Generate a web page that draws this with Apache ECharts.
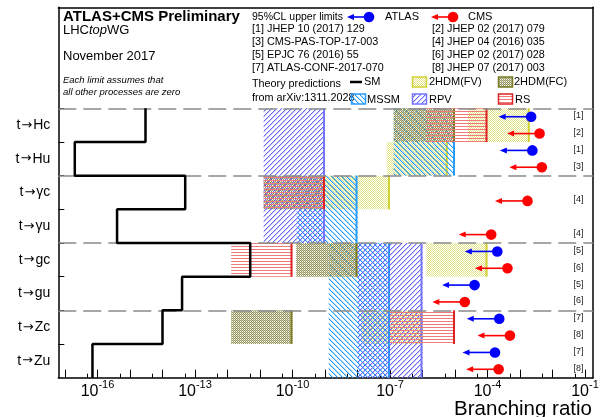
<!DOCTYPE html>
<html>
<head>
<meta charset="utf-8">
<script src="https://cdn.jsdelivr.net/npm/echarts@6/dist/echarts.min.js"></script>
<style>
  html, body { margin: 0; padding: 0; background: #fff; }
  #chart { width: 601px; height: 417px; }
</style>
</head>
<body>
<div id="chart"></div>
<script>
// Top-quark FCNC decay channels, top to bottom
const decays = ['t→Hc', 't→Hu', 't→γc', 't→γu', 't→gc', 't→gu', 't→Zc', 't→Zu'];
// Standard Model branching ratios
const smBR = [3e-15, 2e-17, 5e-14, 4e-16, 5e-12, 4e-14, 1e-14, 7e-17];
// 95% CL upper limits
const atlasLimit = [2.2e-3, 2.4e-3, null, null, 2.0e-4, 4.0e-5, 2.3e-4, 1.7e-4];
const cmsLimit   = [4.0e-3, 4.7e-3, 1.7e-3, 1.3e-4, 4.1e-4, 2.0e-5, 4.9e-4, 2.2e-4];
const atlasRef = ['[1]', '[1]', null, null, '[5]', '[5]', '[7]', '[7]'];
const cmsRef   = ['[2]', '[3]', '[4]', '[4]', '[6]', '[6]', '[8]', '[8]'];
// Theory prediction ranges: [low, high, first row, last row]
const fvRanges   = [[2.5e-5, 2e-3, 0, 0], [8e-8, 6e-6, 1, 1], [1e-9, 1e-7, 2, 2], [1.3e-6, 1e-4, 4, 4], [1.3e-8, 1e-6, 6, 6]];
const fcRanges   = [[1.3e-7, 1e-5, 0, 0], [1.3e-11, 1e-9, 2, 2], [1.3e-10, 1e-8, 4, 4], [1.3e-12, 1e-10, 6, 6]];
const mssmRanges = [[1.3e-7, 1e-5, 0, 1], [1.35e-10, 1e-8, 2, 3], [1.3e-9, 1e-7, 4, 5], [1.3e-9, 1e-7, 6, 7]];
const rpvRanges  = [[1.3e-11, 1e-9, 0, 1], [1.3e-11, 1e-9, 2, 3], [1e-8, 1e-6, 4, 5], [1e-8, 1e-6, 6, 7]];
const rsRanges   = [[1.3e-6, 1e-4, 0, 0], [1.3e-11, 1e-9, 2, 2], [1.3e-12, 1e-10, 4, 4], [1e-7, 1e-5, 6, 6]];
// Axis decorations (exponents of ten)
const xLabelExps = [-16, -13, -10, -7, -4, -1];
const xDecadeExps = [-17, -16, -15, -14, -13, -12, -11, -10, -9, -8, -7, -6, -5, -4, -3, -2, -1];
const groupEdges = [2, 4, 6, 8];

const FONT = 'Liberation Sans, Arial, Helvetica, sans-serif';
const X_MIN = -17.206, X_MAX = -0.754;
const NROWS = decays.length;
const log10 = Math.log10;

// Fill patterns built pixel by pixel so the lines stay crisp
function pattern(w, h, draw) {
  const c = document.createElement('canvas');
  c.width = w; c.height = h;
  draw(c.getContext('2d'), w, h);
  return { image: c, repeat: 'repeat' };
}
function hatch(color, soft, s, down) {
  return pattern(s, s, (ctx) => {
    for (let i = 0; i < s; i++) {
      const y = down ? i : s - 1 - i;
      ctx.fillStyle = color; ctx.fillRect(i, y, 1, 1);
      ctx.fillStyle = soft; ctx.fillRect((i + 1) % s, y, 1, 1);
    }
  });
}
const fvFill = pattern(2, 2, (ctx) => { ctx.fillStyle = '#e2e288'; ctx.fillRect(0, 0, 1, 1); ctx.fillRect(1, 1, 1, 1); });
const fcFill = pattern(2, 2, (ctx) => {
  ctx.fillStyle = '#959560'; ctx.fillRect(0, 0, 1, 1); ctx.fillRect(1, 1, 1, 1);
  ctx.fillStyle = '#cacaa8'; ctx.fillRect(1, 0, 1, 1);
});
const mssmFill = hatch('#1f9bff', 'rgba(31,155,255,0.35)', 5, true);
const rpvFill = hatch('#6464ff', 'rgba(100,100,255,0.35)', 5, false);
const rsFill = pattern(4, 3, (ctx) => { ctx.fillStyle = '#ef7a7a'; ctx.fillRect(0, 0, 4, 1); });

const STYLE = {
  fv:   { fill: fvFill,   edge: '#d2d232' },
  fc:   { fill: fcFill,   edge: '#7a7a22' },
  mssm: { fill: mssmFill, edge: '#2a9cff' },
  rpv:  { fill: rpvFill,  edge: '#7474ff' },
  rs:   { fill: rsFill,   edge: '#e02222' }
};

// Row i spans y in [NROWS-1-i, NROWS-i]
function boxSeries(name, ranges, st, extra) {
  return Object.assign({
    type: 'custom', name, silent: true, z: 2,
    xAxisIndex: 0, yAxisIndex: 0,
    data: ranges.map(r => [log10(r[0]), log10(r[1]), NROWS - 1 - r[3], NROWS - r[2]]),
    encode: { x: [0, 1], y: [2, 3] },
    renderItem(params, api) {
      const a = api.coord([api.value(0), api.value(3)]);
      const b = api.coord([api.value(1), api.value(2)]);
      return {
        type: 'group', children: [
          { type: 'rect', shape: { x: a[0], y: a[1], width: b[0] - a[0], height: b[1] - a[1] }, style: { fill: st.fill } },
          { type: 'line', shape: { x1: b[0] - 1, y1: a[1], x2: b[0] - 1, y2: b[1] }, style: { stroke: st.edge, lineWidth: 2 } }
        ]
      };
    }
  }, extra || {});
}

// Upper-limit markers: dot at the limit with an arrow one decade long
function limitSeries(name, limits, refs, color, offset) {
  const entries = [];
  limits.forEach((v, i) => { if (v != null) entries.push({ x: log10(v), y: NROWS - 1 - i + offset, ref: refs[i] }); });
  return {
    type: 'custom', name, silent: true, z: 5,
    xAxisIndex: 0, yAxisIndex: 0,
    data: entries.map(e => [e.x, e.y]),
    encode: { x: 0, y: 1 },
    renderItem(params, api) {
      const e = entries[params.dataIndex];
      const p = api.coord([api.value(0), api.value(1)]);
      const q = api.coord([api.value(0) - 1, api.value(1)]);
      const r = api.coord([-1.2, api.value(1)]);
      return {
        type: 'group', children: [
          { type: 'line', shape: { x1: q[0] + 4, y1: p[1], x2: p[0], y2: p[1] }, style: { stroke: color, lineWidth: 1.6 } },
          { type: 'polygon', shape: { points: [[q[0], p[1]], [q[0] + 7, p[1] - 3], [q[0] + 7, p[1] + 3]] }, style: { fill: color } },
          { type: 'circle', shape: { cx: p[0], cy: p[1], r: 5.3 }, style: { fill: color } },
          { type: 'text', style: { text: e.ref, x: r[0], y: p[1] - 1, align: 'center', verticalAlign: 'middle', fontSize: 9, fontFamily: FONT, fill: '#222' } }
        ]
      };
    }
  };
}

// SM step line
const smPoints = [];
smBR.forEach((v, i) => { smPoints.push([log10(v), NROWS - i]); smPoints.push([log10(v), NROWS - 1 - i]); });

// Legend samples and text inside the frame
const T = (x, y, text, size, extra) => ({
  type: 'text', x, y, silent: true,
  style: Object.assign({ text, fontSize: size, fontFamily: FONT, fill: '#000', verticalAlign: 'middle' }, extra || {})
});
const legendBox = (x, y, st) => ({
  type: 'rect', silent: true, shape: { x, y, width: 14, height: 10 },
  style: { fill: st.fill, stroke: st.edge, lineWidth: 1.5 }
});
const legendMarker = (x, y, color) => ({
  type: 'group', silent: true, children: [
    { type: 'line', shape: { x1: x - 18, y1: y, x2: x, y2: y }, style: { stroke: color, lineWidth: 1.6 } },
    { type: 'polygon', shape: { points: [[x - 22, y], [x - 15, y - 3], [x - 15, y + 3]] }, style: { fill: color } },
    { type: 'circle', shape: { cx: x, cy: y, r: 5.3 }, style: { fill: color } }
  ]
});

const graphic = [
  T(63, 17, 'ATLAS+CMS Preliminary', 15, { fontWeight: 'bold' }),
  T(63, 30, '{n|LHC}{i|top}{n|WG}', 13, { rich: { n: { fontSize: 13, fontFamily: FONT }, i: { fontSize: 13, fontFamily: FONT, fontStyle: 'italic' } } }),
  T(63, 56, 'November 2017', 13),
  T(63, 80, 'Each limit assumes that', 9.5, { fontStyle: 'italic' }),
  T(63, 92, 'all other processes are zero', 9.5, { fontStyle: 'italic' }),
  T(252, 17, '95%CL upper limits', 10.5),
  legendMarker(369, 17, '#0000ff'),
  T(385, 17, 'ATLAS', 11),
  legendMarker(453, 17, '#ff0000'),
  T(468, 17, 'CMS', 11),
  T(252, 29.5, '[1] JHEP 10 (2017) 129', 10.8),
  T(432, 29.5, '[2] JHEP 02 (2017) 079', 10.8),
  T(252, 42.5, '[3] CMS-PAS-TOP-17-003', 10.8),
  T(432, 42.5, '[4] JHEP 04 (2016) 035', 10.8),
  T(252, 55.5, '[5] EPJC 76 (2016) 55', 10.8),
  T(432, 55.5, '[6] JHEP 02 (2017) 028', 10.8),
  T(252, 68.5, '[7] ATLAS-CONF-2017-070', 10.8),
  T(432, 68.5, '[8] JHEP 07 (2017) 003', 10.8),
  T(252, 84, 'Theory predictions', 10.8),
  T(252, 98, 'from arXiv:1311.2028', 10.8),
  { type: 'line', silent: true, shape: { x1: 350, y1: 82, x2: 362, y2: 82 }, style: { stroke: '#000', lineWidth: 2.5 } },
  T(364, 82, 'SM', 11),
  legendBox(412.5, 77, STYLE.fv), T(429, 82, '2HDM(FV)', 11),
  legendBox(498.5, 77, STYLE.fc), T(514, 82, '2HDM(FC)', 11),
  legendBox(351.5, 94, STYLE.mssm), T(367, 99.5, 'MSSM', 11),
  legendBox(412.5, 94, STYLE.rpv), T(429, 99.5, 'RPV', 11),
  legendBox(498.5, 94, STYLE.rs), T(515, 99.5, 'RS', 11),
  T(592, 409, 'Branching ratio', 20.5, { align: 'right' })
];

// Decay labels: the arrow is drawn in a font with a longer arrow glyph
function decayLabel(v) {
  const d = decays[Math.round(NROWS - 0.5 - v)];
  const parts = d.split('→');
  return '{t|' + parts[0] + '}{a|→}{t|' + parts[1] + '}';
}

const chart = echarts.init(document.getElementById('chart'), null, { renderer: 'canvas' });
chart.setOption({
  animation: false,
  backgroundColor: '#fff',
  grid: { left: 58.3, right: 8, top: 7.3, bottom: 39.3, containLabel: false, outerBoundsMode: 'none' },
  xAxis: [
    {
      type: 'value', min: X_MIN, max: X_MAX, position: 'bottom',
      axisLine: { show: true, onZero: false, lineStyle: { color: '#000', width: 1.5 } },
      axisTick: { show: true, inside: true, length: 8, customValues: xDecadeExps, lineStyle: { color: '#000', width: 1 } },
      axisLabel: {
        show: true, margin: 2, customValues: xLabelExps,
        formatter: v => '{b|10}{s|' + v + '}',
        rich: {
          b: { fontSize: 16, fontFamily: FONT, color: '#000', lineHeight: 20, verticalAlign: 'bottom' },
          s: { fontSize: 11, fontFamily: FONT, color: '#000', lineHeight: 12, verticalAlign: 'top' }
        }
      },
      splitLine: { show: false }
    },
    {
      type: 'value', min: X_MIN, max: X_MAX, position: 'bottom',
      axisLine: { show: false },
      axisTick: { show: true, inside: true, length: 4, customValues: xDecadeExps.map(e => e + log10(5)), lineStyle: { color: '#000', width: 1 } },
      axisLabel: { show: false }, splitLine: { show: false }
    },
    {
      type: 'value', min: X_MIN, max: X_MAX, position: 'top',
      axisLine: { show: true, onZero: false, lineStyle: { color: '#000', width: 1.5 } },
      axisTick: { show: false }, axisLabel: { show: false }, splitLine: { show: false }
    }
  ],
  yAxis: [
    {
      type: 'value', min: 0, max: 11,
      axisLine: { show: true, onZero: false, lineStyle: { color: '#000', width: 1.5 } },
      axisTick: { show: true, inside: true, length: 6, customValues: [1, 2, 3, 4, 5, 6, 7, 8], lineStyle: { color: '#000' } },
      axisLabel: {
        show: true, margin: 8, customValues: decays.map((d, i) => NROWS - 0.5 - i),
        formatter: decayLabel,
        rich: {
          t: { fontSize: 14, fontFamily: FONT, color: '#000' },
          a: { fontSize: 13, fontFamily: 'DejaVu Sans', color: '#000', padding: [0, 1, 0, 1] }
        }
      },
      splitLine: { show: false }
    },
    {
      type: 'value', min: 0, max: 11, position: 'right',
      axisLine: { show: true, onZero: false, lineStyle: { color: '#000', width: 1.5 } },
      axisTick: { show: false }, axisLabel: { show: false }, splitLine: { show: false }
    }
  ],
  graphic,
  series: [
    boxSeries('2HDM(FV)', fvRanges, STYLE.fv),
    boxSeries('MSSM', mssmRanges, STYLE.mssm),
    boxSeries('2HDM(FC)', fcRanges, STYLE.fc),
    boxSeries('RPV', rpvRanges, STYLE.rpv),
    boxSeries('RS', rsRanges, STYLE.rs, {
      markLine: {
        silent: true, symbol: 'none', z: 3,
        label: { show: false },
        lineStyle: { color: '#8a8a8a', width: 1.5, type: [18, 7] },
        data: groupEdges.map(y => ({ yAxis: y }))
      }
    }),
    {
      type: 'line', name: 'SM', data: smPoints, z: 4, silent: true,
      showSymbol: false, symbol: 'none',
      lineStyle: { color: '#000', width: 2.5 }
    },
    limitSeries('ATLAS', atlasLimit, atlasRef, '#0000ff', 0.75),
    limitSeries('CMS', cmsLimit, cmsRef, '#ff0000', 0.25)
  ]
});
</script>
</body>
</html>
